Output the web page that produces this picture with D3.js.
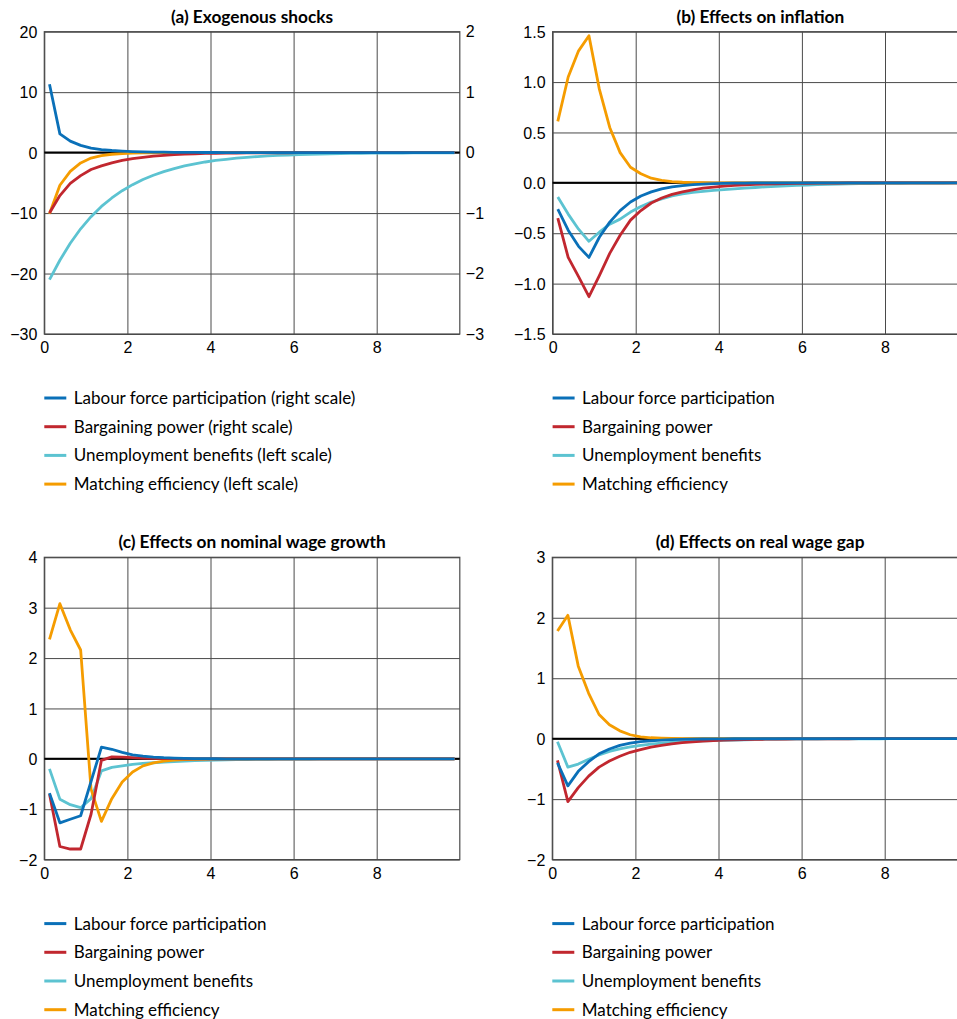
<!DOCTYPE html>
<html>
<head>
<meta charset="utf-8">
<script src="https://cdn.jsdelivr.net/npm/d3@7"></script>
<style>
  body { margin: 0; background: #fff; }
  svg { display: block; font-family: Lato, "Open Sans", sans-serif; }
  .tick text { font-size: 16px; fill: #000; }
  .title { font-size: 17.3px; font-weight: bold; }
  .legend text { font-size: 17px; }
</style>
</head>
<body>
<script>
// quarters, shown in years
const xs = d3.range(40).map(k => 0.125 + 0.25 * k);

const seriesNames = ["Labour force participation", "Bargaining power", "Unemployment benefits", "Matching efficiency"];
const seriesColors = ["#0a70b8", "#c1272f", "#5cc3d1", "#f59c00"];

// (a) exogenous shocks: blue and red on the right scale, cyan and orange on the left
const shockLabour = [1.13, 0.31, 0.19, 0.12, 0.076, 0.05, 0.035, 0.025, 0.018, 0.013, 0.009, 0.007, 0.005, 0.004, 0.003, 0.002, 0.002, 0.001, 0.001, 0.001,
  0, 0, 0, 0, 0, 0, 0, 0, 0, 0, 0, 0, 0, 0, 0, 0, 0, 0, 0, 0];
const shockBargain = [-1.0, -0.71, -0.51, -0.38, -0.28, -0.22, -0.17, -0.13, -0.10, -0.077, -0.058, -0.044, -0.033, -0.025, -0.019, -0.014, -0.011, -0.008, -0.006, -0.005,
  -0.004, -0.003, -0.002, -0.002, -0.001, -0.001, -0.001, 0, 0, 0, 0, 0, 0, 0, 0, 0, 0, 0, 0, 0];
const shockBenefits = [-21, -17.8, -15.0, -12.6, -10.6, -8.9, -7.5, -6.3, -5.3, -4.45, -3.75, -3.15, -2.65, -2.2, -1.85, -1.55, -1.3, -1.1, -0.92, -0.77,
  -0.65, -0.55, -0.46, -0.39, -0.32, -0.27, -0.23, -0.19, -0.16, -0.14, -0.11, -0.1, -0.08, -0.07, -0.06, -0.05, -0.04, -0.03, -0.03, -0.02];
const shockMatching = [-10.1, -5.4, -3.1, -1.7, -0.9, -0.5, -0.27, -0.15, -0.08, -0.04, -0.02, -0.01, -0.005, 0, 0, 0, 0, 0, 0, 0,
  0, 0, 0, 0, 0, 0, 0, 0, 0, 0, 0, 0, 0, 0, 0, 0, 0, 0, 0, 0];

// (b) inflation
const inflLabour = [-0.26, -0.47, -0.63, -0.74, -0.54, -0.39, -0.275, -0.19, -0.13, -0.09, -0.06, -0.04, -0.027, -0.018, -0.012, -0.008, -0.005, -0.003, -0.002, -0.001,
  0, 0, 0, 0, 0, 0, 0, 0, 0, 0, 0, 0, 0, 0, 0, 0, 0, 0, 0, 0];
const inflBargain = [-0.35, -0.74, -0.93, -1.13, -0.92, -0.70, -0.52, -0.37, -0.275, -0.2, -0.15, -0.115, -0.09, -0.07, -0.053, -0.042, -0.033, -0.026, -0.02, -0.016,
  -0.012, -0.009, -0.007, -0.005, -0.004, -0.003, -0.002, -0.002, -0.001, -0.001, 0, 0, 0, 0, 0, 0, 0, 0, 0, 0];
const inflBenefits = [-0.14, -0.31, -0.46, -0.58, -0.49, -0.41, -0.36, -0.29, -0.235, -0.19, -0.16, -0.13, -0.11, -0.095, -0.085, -0.075, -0.068, -0.06, -0.053, -0.046,
  -0.04, -0.035, -0.03, -0.026, -0.022, -0.018, -0.015, -0.012, -0.01, -0.008, -0.007, -0.006, -0.005, -0.004, -0.003, -0.003, -0.002, -0.002, -0.001, -0.001];
const inflMatching = [0.61, 1.05, 1.31, 1.46, 0.93, 0.55, 0.30, 0.155, 0.09, 0.046, 0.025, 0.012, 0.006, 0.003, 0.001, 0, 0, 0, 0, 0,
  0, 0, 0, 0, 0, 0, 0, 0, 0, 0, 0, 0, 0, 0, 0, 0, 0, 0, 0, 0];

// (c) nominal wage growth
const wageLabour = [-0.68, -1.27, -1.2, -1.13, -0.45, 0.23, 0.19, 0.13, 0.08, 0.055, 0.035, 0.022, 0.014, 0.009, 0.006, 0.004, 0.002, 0.001, 0.001, 0,
  0, 0, 0, 0, 0, 0, 0, 0, 0, 0, 0, 0, 0, 0, 0, 0, 0, 0, 0, 0];
const wageBargain = [-0.70, -1.74, -1.79, -1.79, -1.1, -0.03, 0.04, 0.035, 0.025, 0.015, 0.01, 0.006, 0.004, 0.002, 0.001, 0, 0, 0, 0, 0,
  0, 0, 0, 0, 0, 0, 0, 0, 0, 0, 0, 0, 0, 0, 0, 0, 0, 0, 0, 0];
const wageBenefits = [-0.2, -0.8, -0.91, -0.97, -0.79, -0.24, -0.17, -0.14, -0.11, -0.09, -0.078, -0.065, -0.055, -0.045, -0.037, -0.03, -0.025, -0.02, -0.016, -0.013,
  -0.01, -0.008, -0.006, -0.005, -0.004, -0.003, -0.002, -0.002, -0.001, -0.001, 0, 0, 0, 0, 0, 0, 0, 0, 0, 0];
const wageMatching = [2.37, 3.08, 2.56, 2.16, -0.6, -1.24, -0.79, -0.46, -0.26, -0.14, -0.08, -0.045, -0.025, -0.014, -0.008, -0.004, -0.002, -0.001, 0, 0,
  0, 0, 0, 0, 0, 0, 0, 0, 0, 0, 0, 0, 0, 0, 0, 0, 0, 0, 0, 0];

// (d) real wage gap
const gapLabour = [-0.4, -0.78, -0.54, -0.38, -0.25, -0.17, -0.11, -0.075, -0.05, -0.035, -0.024, -0.016, -0.011, -0.007, -0.005, -0.003, -0.002, -0.001, -0.001, 0,
  0, 0, 0, 0, 0, 0, 0, 0, 0, 0, 0, 0, 0, 0, 0, 0, 0, 0, 0, 0];
const gapBargain = [-0.36, -1.04, -0.81, -0.62, -0.47, -0.37, -0.29, -0.225, -0.18, -0.14, -0.11, -0.085, -0.066, -0.052, -0.04, -0.031, -0.024, -0.019, -0.015, -0.011,
  -0.009, -0.007, -0.005, -0.004, -0.003, -0.002, -0.002, -0.001, -0.001, 0, 0, 0, 0, 0, 0, 0, 0, 0, 0, 0];
const gapBenefits = [-0.05, -0.47, -0.42, -0.34, -0.27, -0.21, -0.17, -0.135, -0.11, -0.09, -0.075, -0.062, -0.052, -0.044, -0.037, -0.031, -0.026, -0.022, -0.018, -0.015,
  -0.012, -0.01, -0.008, -0.007, -0.006, -0.005, -0.004, -0.003, -0.002, -0.002, -0.001, -0.001, 0, 0, 0, 0, 0, 0, 0, 0];
const gapMatching = [1.78, 2.04, 1.2, 0.75, 0.4, 0.23, 0.13, 0.065, 0.03, 0.015, 0.008, 0.004, 0.002, 0.001, 0, 0, 0, 0, 0, 0,
  0, 0, 0, 0, 0, 0, 0, 0, 0, 0, 0, 0, 0, 0, 0, 0, 0, 0, 0, 0];

const xTicks = [0, 2, 4, 6, 8];

const panels = [
  { title: "(a) Exogenous shocks", left: 44.3, top: 31.7, yDomain: [-30, 20], yTicks: [-30, -20, -10, 0, 10, 20],
    rDomain: [-3, 2], rTicks: [-3, -2, -1, 0, 1, 2],
    series: [shockLabour, shockBargain, shockBenefits, shockMatching], rightScale: [true, true, false, false],
    legend: ["Labour force participation (right scale)", "Bargaining power (right scale)", "Unemployment benefits (left scale)", "Matching efficiency (left scale)"],
    fmt: d => d3.format("d")(d) },
  { title: "(b) Effects on inflation", left: 552.6, top: 31.7, yDomain: [-1.5, 1.5], yTicks: [-1.5, -1, -0.5, 0, 0.5, 1, 1.5],
    series: [inflLabour, inflBargain, inflBenefits, inflMatching], legend: seriesNames, fmt: d3.format(".1f") },
  { title: "(c) Effects on nominal wage growth", left: 44.3, top: 557.3, yDomain: [-2, 4], yTicks: [-2, -1, 0, 1, 2, 3, 4],
    series: [wageLabour, wageBargain, wageBenefits, wageMatching], legend: seriesNames, fmt: d3.format("d") },
  { title: "(d) Effects on real wage gap", left: 552.3, top: 557.3, yDomain: [-2, 3], yTicks: [-2, -1, 0, 1, 2, 3],
    series: [gapLabour, gapBargain, gapBenefits, gapMatching], legend: seriesNames, fmt: d3.format("d") }
];

const W = 957, H = 1019;
const pw = 415.5, ph = 302.3;
const minus = s => s.replace("-", "\u2212");

const svg = d3.select("body").append("svg").attr("width", W).attr("height", H);

panels.forEach(p => {
  const g = svg.append("g").attr("transform", `translate(${p.left},${p.top})`);
  const x = d3.scaleLinear().domain([0, 10]).range([0, pw]);
  const y = d3.scaleLinear().domain(p.yDomain).range([ph, 0]);
  const yr = p.rDomain ? d3.scaleLinear().domain(p.rDomain).range([ph, 0]) : null;

  g.append("text").attr("class", "title")
    .attr("x", pw / 2).attr("y", -9)
    .attr("text-anchor", "middle")
    .text(p.title);

  // horizontal grid + left labels
  const ya = g.append("g").call(d3.axisLeft(y).tickValues(p.yTicks).tickSize(-pw).tickPadding(7).tickFormat(d => minus(p.fmt(d))));
  ya.select(".domain").remove();
  ya.selectAll(".tick line").attr("stroke", "#4a4a4a").attr("stroke-width", 1);
  ya.selectAll(".tick text").attr("dy", "0.35em");

  if (yr) {
    const ra = g.append("g").attr("transform", `translate(${pw},0)`)
      .call(d3.axisRight(yr).tickValues(p.rTicks).tickSize(0).tickPadding(6).tickFormat(d => minus(d3.format("d")(d))));
    ra.select(".domain").remove();
  }

  // vertical grid + bottom labels
  const xa = g.append("g").attr("transform", `translate(0,${ph})`)
    .call(d3.axisBottom(x).tickValues(xTicks).tickSize(-ph).tickPadding(8).tickFormat(d3.format("d")));
  xa.select(".domain").remove();
  xa.selectAll(".tick line").attr("stroke", "#4a4a4a").attr("stroke-width", 1);

  // frame
  g.append("rect").attr("x", 0).attr("y", 0).attr("width", pw).attr("height", ph)
    .attr("fill", "none").attr("stroke", "#4a4a4a").attr("stroke-width", 1.2);

  // zero line
  g.append("line").attr("x1", 0).attr("x2", pw).attr("y1", y(0)).attr("y2", y(0))
    .attr("stroke", "#000").attr("stroke-width", 2);

  // series, drawn cyan and orange first, blue on top
  [2, 3, 1, 0].forEach(i => {
    const sc = p.rightScale && p.rightScale[i] ? yr : y;
    const line = d3.line().x((d, k) => x(xs[k])).y(d => sc(d));
    g.append("path").datum(p.series[i])
      .attr("d", line)
      .attr("fill", "none")
      .attr("stroke", seriesColors[i])
      .attr("stroke-width", 2.8)
      .attr("stroke-linejoin", "round");
  });

  // legend
  const lg = g.append("g").attr("class", "legend").attr("transform", `translate(0,${ph + 64})`);
  p.legend.forEach((name, i) => {
    const row = lg.append("g").attr("transform", `translate(0,${i * 28.7})`);
    row.append("line").attr("x1", 0).attr("x2", 22).attr("y1", 0).attr("y2", 0)
      .attr("stroke", seriesColors[i]).attr("stroke-width", 3);
    row.append("text").attr("x", 29.5).attr("y", 0).attr("dy", "0.35em").text(name);
  });
});
</script>
</body>
</html>
